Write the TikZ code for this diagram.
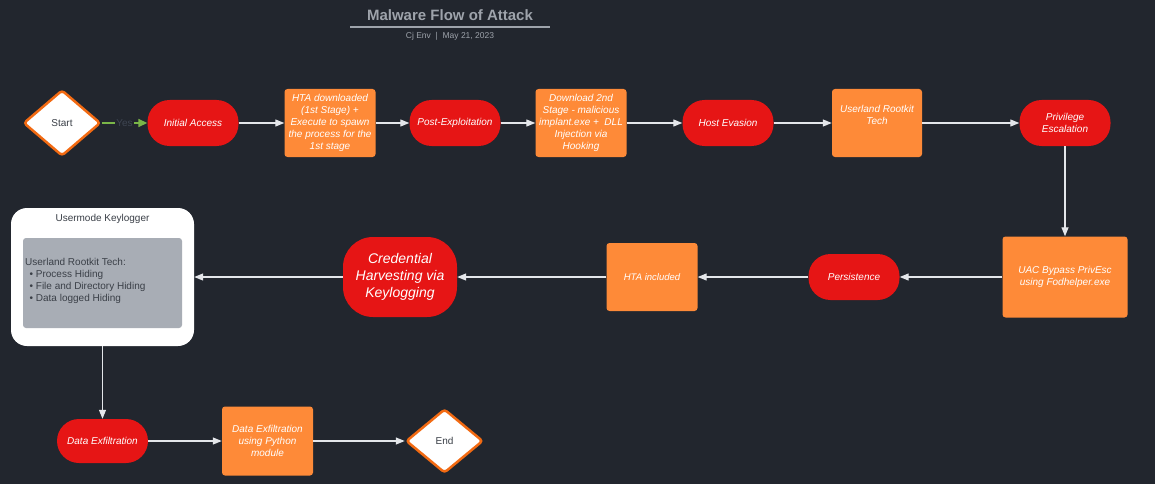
\documentclass[tikz,border=0pt]{standalone}
\usepackage{fontspec}
\setmainfont{Liberation Sans}
\usetikzlibrary{arrows.meta,shapes.geometric}
\definecolor{bg}{HTML}{22262E}
\definecolor{redn}{HTML}{E61515}
\definecolor{orn}{HTML}{FE8A38}
\definecolor{dia}{HTML}{F26A12}
\definecolor{grayin}{HTML}{A8ADB5}
\definecolor{darktxt}{HTML}{3A3F47}
\definecolor{titlec}{HTML}{9EA3AB}
\definecolor{linec}{HTML}{E4E6EA}
\definecolor{greenc}{HTML}{7AB648}
\definecolor{yesc}{HTML}{3E4552}
\begin{document}
\begin{tikzpicture}[x=1pt,y=-1pt,
  pill/.style={draw=none,fill=redn,rounded corners=22pt,minimum width=91pt,minimum height=46pt,
    text=white,font=\fontsize{10}{12}\selectfont\itshape,align=center,inner sep=0pt},
  obox/.style={draw=none,fill=orn,rounded corners=3pt,minimum width=91pt,minimum height=68pt,
    text=white,font=\fontsize{10}{12.2}\selectfont\itshape,align=center,inner sep=0pt},
  dnode/.style={diamond,draw=dia,line width=2.5pt,fill=white,rounded corners=3pt,
    minimum width=77pt,minimum height=66pt,inner sep=0pt,text=darktxt,font=\fontsize{10}{12}\selectfont},
  conn/.style={draw=linec,line width=1.2pt,-{Triangle[length=9pt,width=7pt,fill=linec]}},
]
\useasboundingbox[fill=bg] (0,0) rectangle (1155,484);
% title
\node[text=titlec,font=\fontsize{15}{18}\selectfont\bfseries] (title) at (450,15) {Malware Flow of Attack};
\draw[titlec,line width=1.5pt] (350,27) -- (550,27);
\node[text=titlec,font=\fontsize{8.5}{10}\selectfont] (sub) at (450,36) {Cj Env\ \ |\ \ May 21, 2023};
% row 1
\node[dnode] (start) at (62,123) {Start};
\node[pill] (init) at (193,123) {Initial Access};
\node[obox] (hta1) at (330,123) {HTA downloaded\\(1st Stage) +\\Execute to spawn\\the process for the\\1st stage};
\node[pill] (post) at (455,123) {Post-Exploitation};
\node[obox] (dl2) at (581,123) {Download 2nd\\Stage - malicious\\implant.exe +\ \ DLL\\Injection via\\Hooking};
\node[pill] (host) at (728,123) {Host Evasion};
\node[obox,minimum width=90pt] (urt) at (877,123) {Userland Rootkit\\Tech\\[4pt]};
\node[pill] (priv) at (1065,123) {Privilege\\Escalation};
% row 2
\node[obox,minimum width=125pt,minimum height=81pt] (uac) at (1065,277) {UAC Bypass PrivEsc\\using Fodhelper.exe};
\node[pill] (pers) at (854,277) {Persistence};
\node[obox,font=\fontsize{9.5}{12}\selectfont\itshape] (htainc) at (652,277) {HTA included};
\node[pill,rounded corners=30pt,minimum width=114pt,minimum height=80pt,font=\fontsize{14}{17}\selectfont\itshape] (cred) at (400,277) {Credential\\Harvesting via\\Keylogging};
\node[draw=none,fill=white,rounded corners=16pt,minimum width=183pt,minimum height=138pt,inner sep=0pt] (keylog) at (102.5,277) {};
\node[text=darktxt,font=\fontsize{10}{12}\selectfont] (kltitle) at (102.5,219) {Usermode Keylogger};
\node[fill=grayin,rounded corners=3pt,minimum width=159pt,minimum height=90pt,inner sep=0pt] (inner) at (102.5,283) {};
\node[anchor=west,text=darktxt,align=left,font=\fontsize{10}{12}\selectfont,inner sep=0pt] (innertxt) at (25,281)
  {Userland Rootkit Tech:\\\ \,\textbullet\ Process Hiding\\\ \,\textbullet\ File and Directory Hiding\\\ \,\textbullet\ Data logged Hiding};
% row 3
\node[pill,minimum height=44pt] (dexf) at (102.5,441) {Data Exfiltration};
\node[obox,minimum height=69pt] (dexpy) at (267.5,441) {Data Exfiltration\\using Python\\module};
\node[dnode,minimum height=64pt] (end) at (444.5,441) {End};
% connectors
\draw[greenc,line width=1.5pt,-{Triangle[length=9pt,width=8pt]}] (start.east) -- node[fill=bg,text=yesc,inner sep=1pt,font=\fontsize{10}{12}\selectfont] (yes) {Yes} (init.west);
\draw[conn] (init.east) -- (hta1.west);
\draw[conn] (hta1.east) -- (post.west);
\draw[conn] (post.east) -- (dl2.west);
\draw[conn] (dl2.east) -- (host.west);
\draw[conn] (host.east) -- (urt.west);
\draw[conn] (urt.east) -- (priv.west);
\draw[conn] (priv.south) -- (uac.north);
\draw[conn] (uac.west) -- (pers.east);
\draw[conn] (pers.west) -- (htainc.east);
\draw[conn] (htainc.west) -- (cred.east);
\draw[conn] (cred.west) -- (keylog.east);
\draw[conn] (keylog.south) -- (dexf.north);
\draw[conn] (dexf.east) -- (dexpy.west);
\draw[conn] (dexpy.east) -- (end.west);
\end{tikzpicture}
\end{document}
